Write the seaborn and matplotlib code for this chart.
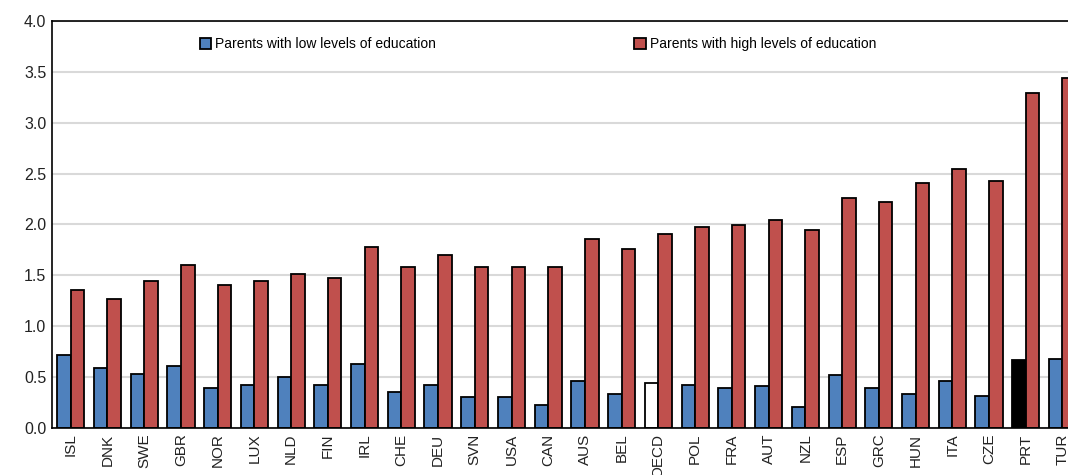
import matplotlib
matplotlib.use("Agg")
import matplotlib.pyplot as plt
import pandas as pd
import seaborn as sns

countries = [
    "ISL", "DNK", "SWE", "GBR", "NOR", "LUX", "NLD", "FIN", "IRL", "CHE",
    "DEU", "SVN", "USA", "CAN", "AUS", "BEL", "OECD", "POL", "FRA", "AUT",
    "NZL", "ESP", "GRC", "HUN", "ITA", "CZE", "PRT", "TUR",
]
low_edu = [
    0.72, 0.59, 0.53, 0.61, 0.39, 0.42, 0.50, 0.42, 0.63, 0.35,
    0.42, 0.30, 0.30, 0.23, 0.46, 0.33, 0.44, 0.42, 0.39, 0.41,
    0.21, 0.52, 0.39, 0.33, 0.46, 0.31, 0.67, 0.68,
]
high_edu = [
    1.36, 1.27, 1.44, 1.60, 1.40, 1.44, 1.51, 1.47, 1.78, 1.58,
    1.70, 1.58, 1.58, 1.58, 1.86, 1.76, 1.91, 1.97, 1.99, 2.04,
    1.95, 2.26, 2.22, 2.41, 2.54, 2.43, 3.29, 3.44,
]
low_label = "Parents with low levels of education"
high_label = "Parents with high levels of education"

BLUE = "#4F81BD"
RED = "#C0504D"


def build_frame() -> pd.DataFrame:
    df_low = pd.DataFrame({"country": countries, "value": low_edu, "group": low_label})
    df_high = pd.DataFrame({"country": countries, "value": high_edu, "group": high_label})
    return pd.concat([df_low, df_high], ignore_index=True)


def main():
    df = build_frame()
    plt.rcParams["font.family"] = ["Liberation Sans", "DejaVu Sans"]

    fig = plt.figure(figsize=(10.68, 4.75), dpi=100)
    ax = fig.add_axes([0.0487, 0.099, 1 - 0.0487, 0.857])
    sns.barplot(
        data=df, x="country", y="value", hue="group",
        hue_order=[low_label, high_label],
        palette=[BLUE, RED], saturation=1, width=0.74,
        edgecolor="black", linewidth=1.3, ax=ax, legend=True,
    )
    # highlight OECD average (white) and Portugal (black)
    ax.containers[0][countries.index("OECD")].set_facecolor("white")
    ax.containers[0][countries.index("PRT")].set_facecolor("black")

    ax.set_ylim(0, 4.0)
    ax.set_yticks([0, 0.5, 1.0, 1.5, 2.0, 2.5, 3.0, 3.5, 4.0])
    ax.set_yticklabels([f"{v:.1f}" for v in ax.get_yticks()], fontsize=11.5, color="#222222")
    ax.set_xlim(-0.51, 27.15)
    ax.set_xlabel("")
    ax.set_ylabel("")
    plt.setp(ax.get_xticklabels(), rotation=90, fontsize=11, color="#222222")
    ax.tick_params(axis="both", length=0, pad=4)

    ax.yaxis.grid(True, color="#d9d9d9", linewidth=1.5)
    ax.set_axisbelow(True)
    for side in ["left", "top", "bottom"]:
        ax.spines[side].set_color("black")
        ax.spines[side].set_linewidth(1.2)
    ax.spines["right"].set_visible(False)

    ax.legend(
        loc="upper left", bbox_to_anchor=(0.133, 0.99), ncol=2, frameon=False,
        fontsize=10, handlelength=0.8, handleheight=0.8, handletextpad=0.3,
        columnspacing=14.3,
    )
    fig.savefig("out.png", dpi=100)


main()
